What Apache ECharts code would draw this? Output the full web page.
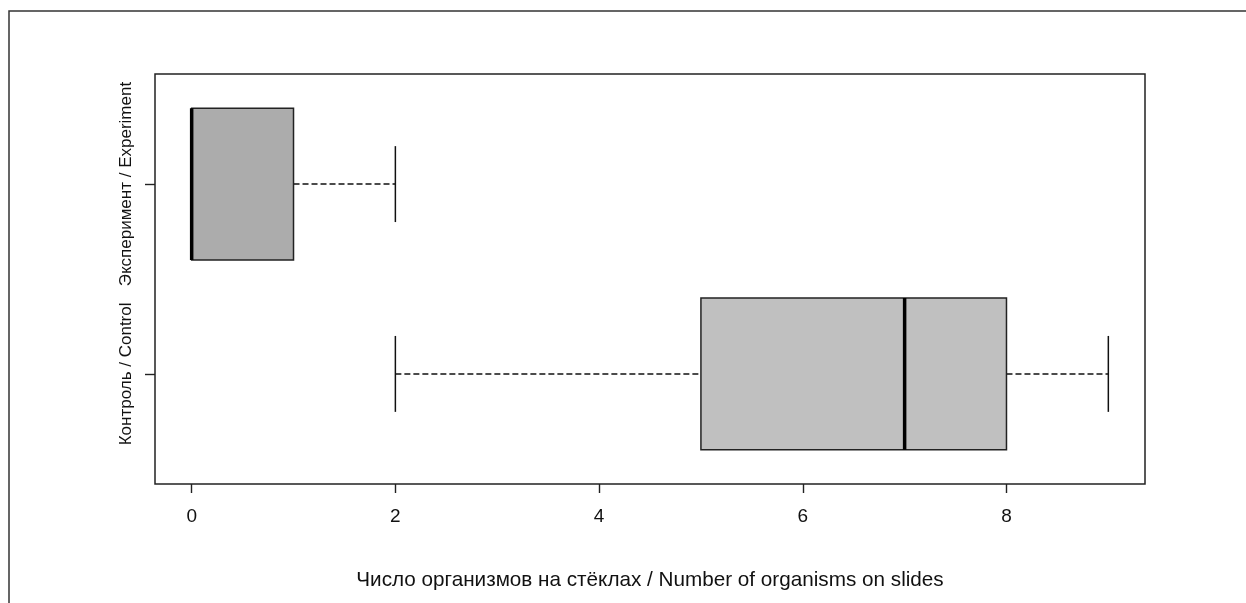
<!DOCTYPE html>
<html>
<head>
<meta charset="utf-8">
<script src="https://cdn.jsdelivr.net/npm/echarts@6/dist/echarts.min.js"></script>
<style>
  html, body { margin: 0; padding: 0; background: #fff; }
  #main { width: 1246px; height: 603px; }
</style>
</head>
<body>
<div id="main"></div>
<script>
// groups, bottom to top (position on y axis = index + 1)
var groups = ['Контроль / Control', 'Эксперимент / Experiment'];
// five-number summaries: min, q1, median, q3, max
var mins    = [2, 0];
var q1s     = [5, 0];
var medians = [7, 0];
var q3s     = [8, 1];
var maxs    = [9, 2];
var xTicks  = [0, 2, 4, 6, 8];
var xTitle  = 'Число организмов на стёклах / Number of organisms on slides';

var boxFill = ['#c0c0c0', '#acacac'];

var data = groups.map(function (g, i) {
    return [i + 1, mins[i], q1s[i], medians[i], q3s[i], maxs[i]];
});

function renderBox(params, api) {
    var y = api.value(0);
    var lo = api.value(1), q1 = api.value(2), md = api.value(3), q3 = api.value(4), hi = api.value(5);
    var half = 0.4, capHalf = 0.2;
    var pQ1top = api.coord([q1, y + half]);
    var pQ3bot = api.coord([q3, y - half]);
    var children = [];
    var dash = { stroke: '#111', lineWidth: 1.5, lineDash: [6, 3] };
    var solid = { stroke: '#111', lineWidth: 1.5 };
    // whiskers (dashed)
    if (lo < q1) {
        var a = api.coord([lo, y]), b = api.coord([q1, y]);
        children.push({ type: 'line', shape: { x1: a[0], y1: a[1], x2: b[0], y2: b[1] }, style: dash });
    }
    if (hi > q3) {
        var c = api.coord([q3, y]), d = api.coord([hi, y]);
        children.push({ type: 'line', shape: { x1: c[0], y1: c[1], x2: d[0], y2: d[1] }, style: dash });
    }
    // caps
    [lo, hi].forEach(function (v) {
        var t = api.coord([v, y + capHalf]), bt = api.coord([v, y - capHalf]);
        children.push({ type: 'line', shape: { x1: t[0], y1: t[1], x2: bt[0], y2: bt[1] }, style: solid });
    });
    // box
    children.push({
        type: 'rect',
        shape: { x: pQ1top[0], y: pQ1top[1], width: pQ3bot[0] - pQ1top[0], height: pQ3bot[1] - pQ1top[1] },
        style: { fill: boxFill[y - 1], stroke: '#222', lineWidth: 1.5 }
    });
    // median
    var mt = api.coord([md, y + half]), mb = api.coord([md, y - half]);
    children.push({ type: 'line', shape: { x1: mt[0], y1: mt[1], x2: mb[0], y2: mb[1] }, style: { stroke: '#000', lineWidth: 3.5 } });
    return { type: 'group', children: children };
}

var myChart = echarts.init(document.getElementById('main'));
var font = 'Liberation Sans, Arial, sans-serif';
var option = {
    animation: false,
    backgroundColor: '#fff',
    grid: {
        left: 155, top: 74, right: 101, bottom: 119,
        show: true, borderColor: '#222', borderWidth: 1.5, backgroundColor: 'transparent'
    },
    xAxis: {
        type: 'value',
        min: -0.36,
        max: 9.36,
        splitLine: { show: false },
        axisLine: { show: false, onZero: false },
        axisTick: { show: true, length: 9, customValues: xTicks, lineStyle: { color: '#222', width: 1.4 } },
        axisLabel: { customValues: xTicks, margin: 23, color: '#111', fontSize: 19, fontFamily: font },
        name: xTitle,
        nameLocation: 'middle',
        nameGap: 86,
        nameTextStyle: { color: '#111', fontSize: 20.7, fontFamily: font }
    },
    yAxis: {
        type: 'value',
        min: 0.42,
        max: 2.58,
        splitLine: { show: false },
        axisLine: { show: false, onZero: false },
        axisTick: { show: true, length: 10, customValues: [1, 2], lineStyle: { color: '#222', width: 1.4 } },
        axisLabel: {
            customValues: [1, 2],
            rotate: 90,
            align: 'center',
            verticalAlign: 'bottom',
            margin: 20,
            color: '#111',
            fontSize: 17,
            fontFamily: font,
            formatter: function (v) { return groups[Math.round(v) - 1] || ''; }
        }
    },
    graphic: [{
        type: 'polyline',
        shape: { points: [[9, 603], [9, 11], [1246, 11]] },
        style: { stroke: '#333', lineWidth: 1.5, fill: null }
    }],
    series: [{
        type: 'custom',
        renderItem: renderBox,
        encode: { x: [1, 2, 3, 4, 5], y: 0 },
        data: data
    }]
};
myChart.setOption(option);
</script>
</body>
</html>
